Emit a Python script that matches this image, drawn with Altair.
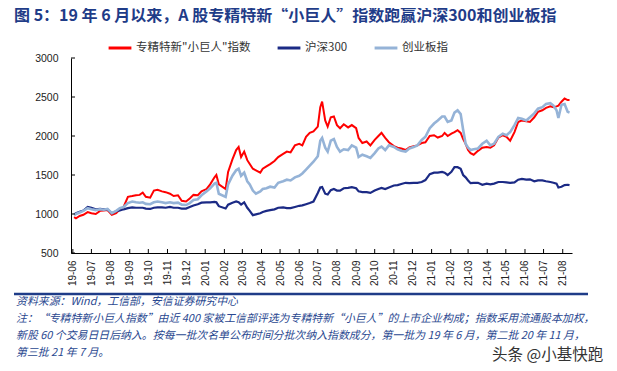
import altair as alt
import pandas as pd

# ---------------- data ----------------
dates = [
    # 2019
    "2019-06-03", "2019-06-06", "2019-06-12", "2019-06-18", "2019-06-25",
    "2019-07-01", "2019-07-08", "2019-07-15", "2019-07-21", "2019-07-27",
    "2019-08-03", "2019-08-10", "2019-08-16", "2019-08-22", "2019-08-29",
    "2019-09-05", "2019-09-11", "2019-09-17", "2019-09-22", "2019-09-27",
    "2019-10-04", "2019-10-10", "2019-10-16", "2019-10-23", "2019-10-29",
    "2019-11-05", "2019-11-11", "2019-11-18", "2019-11-24",
    "2019-12-01", "2019-12-07", "2019-12-13", "2019-12-20", "2019-12-26",
    # 2020
    "2020-01-03", "2020-01-09", "2020-01-16", "2020-01-19", "2020-01-23",
    "2020-02-03", "2020-02-07", "2020-02-14", "2020-02-20", "2020-02-24", "2020-02-28",
    "2020-03-04", "2020-03-09", "2020-03-13", "2020-03-18", "2020-03-23", "2020-03-30",
    "2020-04-03", "2020-04-09", "2020-04-15", "2020-04-22", "2020-04-28",
    "2020-05-06", "2020-05-12", "2020-05-18", "2020-05-25",
    "2020-06-01", "2020-06-06", "2020-06-12", "2020-06-18", "2020-06-24",
    "2020-07-01", "2020-07-05", "2020-07-08", "2020-07-13", "2020-07-17", "2020-07-22", "2020-07-27",
    "2020-08-01", "2020-08-06", "2020-08-12", "2020-08-19", "2020-08-25",
    "2020-09-01", "2020-09-05", "2020-09-11", "2020-09-18", "2020-09-24",
    "2020-10-01", "2020-10-07", "2020-10-12", "2020-10-18", "2020-10-24",
    "2020-11-01", "2020-11-07", "2020-11-13", "2020-11-20", "2020-11-26",
    "2020-12-03", "2020-12-09", "2020-12-16", "2020-12-22", "2020-12-29",
    # 2021
    "2021-01-05", "2021-01-11", "2021-01-18", "2021-01-22", "2021-01-27",
    "2021-02-02", "2021-02-07", "2021-02-12", "2021-02-17", "2021-02-21", "2021-02-25",
    "2021-03-01", "2021-03-05", "2021-03-10", "2021-03-17", "2021-03-24", "2021-03-31",
    "2021-04-06", "2021-04-12", "2021-04-19", "2021-04-26",
    "2021-05-02", "2021-05-08", "2021-05-15", "2021-05-21", "2021-05-27",
    "2021-06-03", "2021-06-09", "2021-06-16", "2021-06-22", "2021-06-29",
    "2021-07-05", "2021-07-12", "2021-07-17", "2021-07-22", "2021-07-25", "2021-07-30",
    "2021-08-04", "2021-08-09", "2021-08-12",
]

zjtx = [  # 专精特新"小巨人"指数
    960, 945, 975, 990, 1025,
    1010, 1000, 1040, 1045, 1050,
    990, 1010, 1060, 1090, 1220,
    1230, 1240, 1245, 1275, 1220,
    1210, 1300, 1310, 1290, 1280,
    1260, 1230, 1240, 1170,
    1160, 1200, 1245, 1240, 1290,
    1320, 1380, 1470, 1500, 1380,
    1320, 1540, 1700, 1820, 1860, 1730,
    1800, 1690, 1640, 1580, 1560, 1530,
    1580, 1610, 1640, 1680, 1730,
    1770, 1800, 1790, 1880,
    1900, 1880, 1990, 2040, 2060,
    2120, 2370, 2440, 2200, 2120, 2240, 2250,
    2140, 2100, 2150, 2110, 2140,
    2100, 1975, 1910, 1930, 1880,
    1950, 2000, 2040, 1975, 1920,
    1870, 1850, 1840, 1820, 1855,
    1870, 1880, 1910, 1920, 2000,
    2010, 1980, 2000, 2040, 2000,
    2030, 2050, 2075, 2040, 1960, 1900,
    1820, 1780, 1760, 1810, 1850, 1860,
    1850, 1880, 1980, 2010,
    1990, 1940, 2050, 2180, 2200,
    2190, 2180, 2240, 2310, 2330,
    2360, 2380, 2370, 2380, 2390, 2440,
    2480, 2460, 2460,
]

hs300 = [  # 沪深300
    995, 1010, 1030, 1045, 1090,
    1080, 1060, 1065, 1060, 1060,
    1010, 1035, 1045, 1060, 1075,
    1085, 1080, 1080, 1080, 1070,
    1065, 1080, 1085, 1085, 1080,
    1090, 1080, 1080, 1070,
    1070, 1090, 1110, 1125, 1145,
    1150, 1150, 1155, 1150, 1100,
    1070, 1120, 1145, 1160, 1150, 1120,
    1150, 1080, 1040, 985, 995, 1010,
    1025, 1040, 1050, 1060, 1080,
    1085, 1075, 1075, 1090,
    1105, 1110, 1125, 1140, 1160,
    1270, 1340, 1345, 1260, 1250, 1305, 1320,
    1300, 1300, 1330, 1335, 1345,
    1330, 1290, 1280, 1280, 1270,
    1300, 1320, 1335, 1320, 1340,
    1365, 1370, 1385, 1400, 1395,
    1400, 1400, 1410, 1435, 1510,
    1530, 1530, 1540, 1530, 1500,
    1540, 1600, 1600, 1580, 1500, 1470,
    1430, 1395, 1400, 1400, 1375, 1390,
    1380, 1390, 1410, 1410,
    1405, 1400, 1405, 1440, 1450,
    1440, 1445, 1420, 1430, 1430,
    1420, 1410, 1400, 1390, 1340, 1350,
    1370, 1375, 1370,
]

cyb = [  # 创业板指
    985, 1000, 1020, 1040, 1075,
    1060, 1050, 1060, 1055, 1065,
    1010, 1040, 1075, 1090, 1140,
    1160, 1150, 1145, 1150, 1130,
    1125, 1150, 1160, 1150, 1140,
    1150, 1140, 1145, 1120,
    1115, 1140, 1180, 1190, 1240,
    1290, 1330, 1390, 1400, 1260,
    1220, 1380, 1490, 1560, 1580, 1490,
    1530, 1420, 1380, 1300, 1260, 1290,
    1320, 1330, 1350, 1340, 1400,
    1420, 1440, 1430, 1470,
    1490, 1520, 1570, 1620, 1670,
    1740, 1940, 1975, 1850, 1800, 1940, 1960,
    1860, 1800, 1830, 1820, 1880,
    1850, 1730, 1760, 1740, 1720,
    1780, 1840, 1865, 1820, 1880,
    1860, 1830, 1810, 1800, 1840,
    1860, 1880, 1950, 1990, 2100,
    2160, 2200, 2250, 2250, 2180,
    2200, 2300, 2330, 2280, 2080, 1900,
    1850, 1820, 1830, 1840, 1900, 1940,
    1880, 1900, 1990, 2030,
    2010, 2050, 2140, 2230, 2220,
    2200, 2240, 2290, 2350, 2370,
    2410, 2420, 2390, 2330, 2230, 2400,
    2410, 2310, 2300,
]

S1 = '专精特新"小巨人"指数'
S2 = "沪深300"
S3 = "创业板指"
series_names = [S1, S2, S3]
series_colors = ["#FF0000", "#1B2A85", "#95B3D7"]

y_ticks = [500, 1000, 1500, 2000, 2500, 3000]
month_ticks = [d.strftime("%Y-%m-%dT00:00:00") for d in pd.date_range("2019-06-01", "2021-08-01", freq="MS")]

title_text = "图 5：19 年 6 月以来，A 股专精特新“小巨人”指数跑赢沪深300和创业板指"
note_lines = [
    "资料来源：Wind，工信部，安信证券研究中心",
    "注：“专精特新小巨人指数”由近 400 家被工信部评选为专精特新“小巨人”的上市企业构成；指数采用流通股本加权，",
    "新股 60 个交易日日后纳入。按每一批次名单公布时间分批次纳入指数成分，第一批为 19 年 6 月，第二批 20 年 11 月，",
    "第三批 21 年 7 月。",
]
watermark = "头条 @小基快跑"

# ---------------- tables ----------------
rows = []
for d, a, b, c in zip(dates, zjtx, hs300, cyb):
    t = d + "T00:00:00"
    rows.append({"date": t, "value": a, "series": S1})
    rows.append({"date": t, "value": b, "series": S2})
    rows.append({"date": t, "value": c, "series": S3})
df = pd.DataFrame(rows)

LATIN = "Liberation Sans, Noto Sans CJK SC"
CJK = "Noto Sans CJK SC"
NAVY = "#1F3C88"

xscale = alt.Scale(domain=[alt.DateTime(year=2019, month=5, date=29),
                           alt.DateTime(year=2021, month=8, date=16)])
yscale = alt.Scale(domain=[500, 3000], nice=False, zero=False)

xaxis = alt.Axis(
    values=[alt.DateTime(year=int(m[:4]), month=int(m[5:7]), date=1) for m in month_ticks],
    format="%y-%m", labelAngle=270, ticks=False, grid=False, title=None,
    labelPadding=7, labelFont=LATIN, labelFontSize=10, labelColor="#222",
    labelOverlap=False, labelFlush=False, domainColor="#000", domainWidth=1,
)
yaxis = alt.Axis(
    values=y_ticks, format="d", ticks=False, grid=False, title=None,
    labelPadding=13, labelFont=LATIN, labelFontSize=10.5, labelColor="#222",
    domainColor="#000", domainWidth=1,
)

color = alt.Color(
    "series:N",
    scale=alt.Scale(domain=series_names, range=series_colors),
    legend=alt.Legend(
        title=None, orient="none", legendX=36, legendY=-23, direction="horizontal",
        symbolType="stroke", symbolSize=520, symbolStrokeWidth=3,
        labelFont=CJK, labelFontSize=11.5, labelColor="#333",
        columnPadding=20, labelOffset=3, gridAlign="none",
    ),
)


def series_line(name, width):
    return (
        alt.Chart(df)
        .transform_filter(alt.datum.series == name)
        .mark_line(strokeWidth=width)
        .encode(
            x=alt.X("date:T", scale=xscale, axis=xaxis),
            y=alt.Y("value:Q", scale=yscale, axis=yaxis),
            color=color,
        )
    )


lines = [series_line(S1, 2), series_line(S2, 2.2), series_line(S3, 2.6)]

ytick_layer = (
    alt.Chart(pd.DataFrame({"value": y_ticks}))
    .mark_rule(color="#000", strokeWidth=1)
    .encode(y=alt.Y("value:Q", scale=yscale, axis=yaxis), x=alt.value(0), x2=alt.value(4))
)
xtick_layer = (
    alt.Chart(pd.DataFrame({"date": month_ticks}))
    .mark_rule(color="#000", strokeWidth=1)
    .encode(x=alt.X("date:T", scale=xscale, axis=xaxis), y=alt.value(195), y2=alt.value(191))
)


def text_layer(txt, x, y, **kw):
    return (
        alt.Chart(pd.DataFrame({"t": [txt]}))
        .mark_text(align="left", baseline="middle", **kw)
        .encode(text="t:N", x=alt.value(x), y=alt.value(y))
    )


title_layer = text_layer(title_text, -57, -42, font=CJK, fontSize=16, fontWeight="bold", color=NAVY)
note_layers = [
    text_layer(t, -55, y, font=CJK, fontSize=10.9, fontStyle="italic", color="#2A4890")
    for t, y in zip(note_lines, [244, 261, 278, 295])
]
wm_layer = text_layer(watermark, 421, 297, font=CJK, fontSize=15.5, color="#333")
sep_rule = (
    alt.Chart(pd.DataFrame({"a": [0]}))
    .mark_rule(color=NAVY, strokeWidth=2.5)
    .encode(x=alt.value(-57), x2=alt.value(517), y=alt.value(236))
)

chart = (
    alt.layer(*lines, ytick_layer, xtick_layer, title_layer, *note_layers, wm_layer, sep_rule)
    .properties(
        width=501, height=195,
        autosize=alt.AutoSizeParams(type="none"),
        padding={"left": 63, "top": 50, "right": 37, "bottom": 110},
        background="white",
    )
    .configure_view(stroke=None)
)

chart.save("out.html", embed_options={"renderer": "svg", "actions": False})
